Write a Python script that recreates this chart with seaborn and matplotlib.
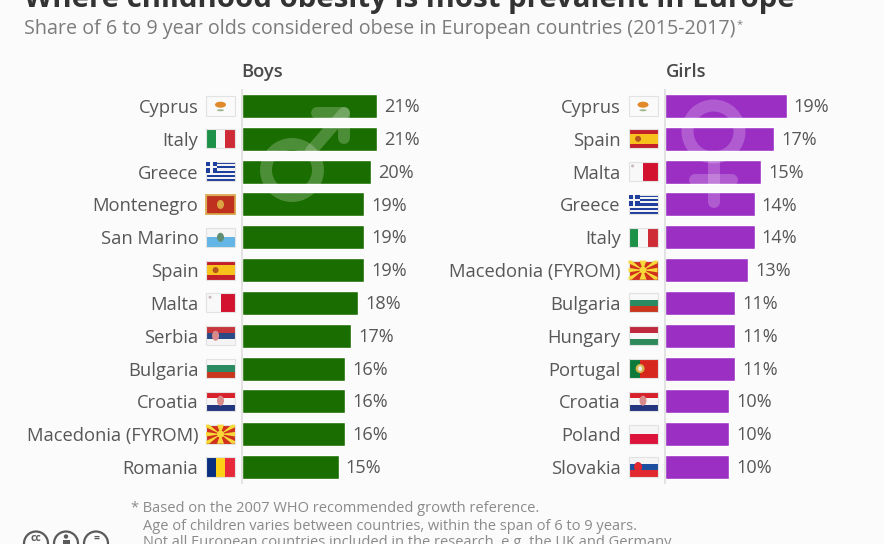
import matplotlib
matplotlib.use("Agg")
import matplotlib.pyplot as plt
from matplotlib.patches import Circle, Ellipse, Rectangle, Polygon
import seaborn as sns

boys_countries = ["Cyprus", "Italy", "Greece", "Montenegro", "San Marino", "Spain",
                  "Malta", "Serbia", "Bulgaria", "Croatia", "Macedonia (FYROM)", "Romania"]
boys_values = [21, 21, 20, 19, 19, 19, 18, 17, 16, 16, 16, 15]

girls_countries = ["Cyprus", "Spain", "Malta", "Greece", "Italy", "Macedonia (FYROM)",
                   "Bulgaria", "Hungary", "Portugal", "Croatia", "Poland", "Slovakia"]
girls_values = [19, 17, 15, 14, 14, 13, 11, 11, 11, 10, 10, 10]

title = "Where childhood obesity is most prevalent in Europe"
subtitle = "Share of 6 to 9 year olds considered obese in European countries (2015-2017)"
notes = ["* Based on the 2007 WHO recommended growth reference.",
         "  Age of children varies between countries, within the span of 6 to 9 years.",
         "  Not all European countries included in the research, e.g. the UK and Germany"]

# stripes of each flag: (direction, colours)
flags = {
    "Cyprus": ("h", ["#fafafa"]),
    "Italy": ("v", ["#1e9148", "#f7f7f7", "#cf2b37"]),
    "Greece": ("h", ["#1f3f9e", "#f4f4f4"] * 4 + ["#1f3f9e"]),
    "Montenegro": ("h", ["#c0301f"]),
    "San Marino": ("h", ["#f5f5f5", "#62b5e5"]),
    "Spain": ("h", ["#c4202a", "#f7c21c", "#f7c21c", "#c4202a"]),
    "Malta": ("v", ["#f8f8f8", "#d2122e"]),
    "Serbia": ("h", ["#c6363c", "#2a4a86", "#f4f4f4"]),
    "Bulgaria": ("h", ["#f8f8f8", "#2a8a62", "#c9361e"]),
    "Croatia": ("h", ["#d8202a", "#f5f5f5", "#24357f"]),
    "Macedonia (FYROM)": ("h", ["#d0301c"]),
    "Romania": ("v", ["#0a2f7f", "#fcd116", "#e8293a"]),
    "Hungary": ("h", ["#c0283e", "#f8f8f8", "#2f8a5a"]),
    "Portugal": ("v", ["#0b7a3b", "#0b7a3b", "#d7261e", "#d7261e", "#d7261e"]),
    "Poland": ("h", ["#f5f5f5", "#dc143c"]),
    "Slovakia": ("h", ["#f5f5f5", "#1c4fa0", "#e0282e"]),
}

W, H = 884, 544
BG = "#fbfbfb"
TEXT = "#575757"
FONT = "Open Sans"

sns.set_theme(style="white")
plt.rcParams["font.family"] = [FONT, "DejaVu Sans"]


def draw_flag(ax, row, name, px):
    # flag sits left of the axis line, sizes given in pixels of this axes
    direction, colours = flags[name]
    x0, fw = -36 / px, 29 / px
    fh = 0.58
    y0 = row - fh / 2
    n = len(colours)
    for i, c in enumerate(colours):
        if direction == "h":
            r = Rectangle((x0, y0 + fh * i / n), fw, fh / n, fc=c, lw=0, clip_on=False)
        else:
            r = Rectangle((x0 + fw * i / n, y0), fw / n, fh, fc=c, lw=0, clip_on=False)
        ax.add_patch(r)
    ax.add_patch(Rectangle((x0, y0), fw, fh, fc="none", ec="#e2e2e2", lw=0.8, clip_on=False))
    cx, cy = x0 + fw / 2, row

    def blob(x, y, w, h, c):
        ax.add_patch(Ellipse((x, y), w / px, h / 32.8, fc=c, lw=0, clip_on=False))

    if name == "Cyprus":
        blob(cx, cy - 0.04, 11, 6, "#e08a2c")
        blob(cx, cy + 0.13, 7, 2, "#9db58c")
    if name == "Greece":
        ax.add_patch(Rectangle((x0, y0), fw * 0.38, fh * 5 / 9, fc="#1f3f9e", lw=0, clip_on=False))
        ax.add_patch(Rectangle((x0, y0 + fh * 2 / 9), fw * 0.38, fh / 9, fc="#f4f4f4", lw=0, clip_on=False))
        ax.add_patch(Rectangle((x0 + fw * 0.15, y0), fw * 0.08, fh * 5 / 9, fc="#f4f4f4", lw=0, clip_on=False))
    if name == "Montenegro":
        blob(cx, cy, 7, 9, "#d9a441")
        ax.add_patch(Rectangle((x0, y0), fw, fh, fc="none", ec="#d9a441", lw=1.2, clip_on=False))
    if name == "San Marino":
        blob(cx, cy, 7, 9, "#5f8f70")
    if name == "Spain":
        blob(x0 + fw * 0.33, cy, 6, 6, "#b5541c")
    if name == "Serbia":
        blob(x0 + fw * 0.33, cy, 7, 10, "#d9898b")
    if name == "Croatia":
        blob(cx, cy - 0.02, 7, 10, "#d98a8a")
    if name == "Slovakia":
        blob(x0 + fw * 0.33, cy, 8, 10, "#e0282e")
    if name == "Malta":
        blob(x0 + fw * 0.14, y0 + fh * 0.2, 3, 3, "#c9b9b9")
    if name == "Macedonia (FYROM)":
        ray = 1.6 / px
        hw, hh = fw / 2, fh / 2
        tips = [(-hw, -hh), (hw, -hh), (-hw, hh), (hw, hh), (0, -hh), (0, hh), (-hw, 0), (hw, 0)]
        for tx, ty in tips:
            if tx == 0:
                pts = [(cx, cy), (cx - 2.2 * ray, cy + ty), (cx + 2.2 * ray, cy + ty)]
            elif ty == 0:
                pts = [(cx, cy), (cx + tx, cy - 0.07), (cx + tx, cy + 0.07)]
            else:
                pts = [(cx, cy), (cx + tx - ray * (tx > 0) * 2 + ray * (tx < 0) * 2, cy + ty), (cx + tx, cy + ty),
                       (cx + tx, cy + ty * 0.72)]
            ax.add_patch(Polygon(pts, fc="#f7d93a", lw=0, clip_on=False))
        blob(cx, cy, 7, 7, "#f7d93a")
    if name == "Portugal":
        blob(x0 + fw * 0.4, cy, 9, 9, "#d8b44a")
        blob(x0 + fw * 0.4, cy, 4, 5, "#eeeeee")


def draw_panel(left, countries, values, colour, head, head_x):
    px = 6.44
    ax = fig.add_axes([left / W, 1 - 483.4 / H, 200 / W, (483.4 - 89.6) / H])
    ax.set_facecolor("none")
    sns.barplot(x=values, y=countries, color=colour, width=0.73, saturation=1, ax=ax)
    ax.set_xlim(0, 200 / px)
    ax.set_ylim(11.5, -0.5)
    ax.set_xticks([])
    ax.set_xlabel("")
    ax.set_ylabel("")
    sns.despine(ax=ax, top=True, right=True, bottom=True, left=False)
    ax.spines["left"].set_color("#e2e2e2")
    ax.spines["left"].set_linewidth(1.4)
    ax.tick_params(axis="y", length=0, pad=31.5)
    for lab in ax.get_yticklabels():
        lab.set_fontsize(13.2)
        lab.set_color(TEXT)
    for t in ax.bar_label(ax.containers[0], fmt="%d%%", padding=5, fontsize=13.1, color=TEXT):
        t.xyann = (t.xyann[0], t.xyann[1] - 0.8)
    for row, name in enumerate(countries):
        draw_flag(ax, row, name, px)
    fig.text(head_x / W, 1 - 72 / H, head, fontsize=13.2, fontweight="semibold",
             color="#4a4a4a", va="center")


fig = plt.figure(figsize=(W / 100, H / 100), dpi=100, facecolor=BG)

draw_panel(242, boys_countries, boys_values, "#1a6d00", "Boys", 241.5)
draw_panel(664.5, girls_countries, girls_values, "#9b2fc4", "Girls", 666)

# overlay in pixel coordinates for the gender symbols and the licence icons
over = fig.add_axes([0, 0, 1, 1])
over.set_xlim(0, W)
over.set_ylim(H, 0)
over.axis("off")
over.patch.set_alpha(0)

ghost = dict(color="white", alpha=0.22, lw=8.6, solid_capstyle="round", solid_joinstyle="round")
over.add_patch(Circle((292, 170), 26, fc="none", ec="white", alpha=0.22, lw=8.6))
over.plot([311, 344], [151, 113], **ghost)
over.plot([317, 344, 344], [113, 113, 138], **ghost)
over.add_patch(Circle((713.5, 131.5), 26, fc="none", ec="white", alpha=0.22, lw=8.6))
over.plot([713.5, 713.5], [158, 202], **ghost)
over.plot([695, 732], [180, 180], **ghost)

for cx, sym in zip([36, 66, 96], ["cc", "", "="]):
    over.add_patch(Circle((cx, 543.5), 12, fc=BG, ec="#5a5a5a", lw=1.6))
    if sym:
        over.text(cx, 538.5, sym, fontsize=7.5, fontweight="bold", color="#5a5a5a", ha="center", va="center")
    else:
        over.add_patch(Circle((cx, 536.5), 2.2, fc="#5a5a5a", lw=0))
        over.add_patch(Rectangle((cx - 3.5, 539.5), 7, 6, fc="#5a5a5a", lw=0))

fig.text(24 / W, 1 - 7 / H, title, fontsize=21.15, fontweight="bold", color="#333333", va="baseline")
fig.text(24 / W, 1 - 29 / H, subtitle, fontsize=14.2, color="#7c7c7c", va="center")
fig.text(737 / W, 1 - 25 / H, "*", fontsize=8, color="#7c7c7c", va="center")
for y, line in zip([508.5, 526.5, 543], notes):
    x = 131 if line.startswith("*") else 143
    fig.text(x / W, 1 - y / H, line.strip(), fontsize=10.5, color="#8a8a8a", va="center")

fig.savefig("out.png", dpi=100, facecolor=BG)
